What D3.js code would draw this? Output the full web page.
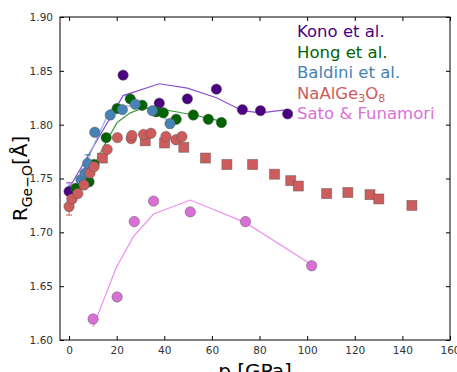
<!DOCTYPE html>
<html>
<head>
<meta charset="utf-8">
<script src="https://d3js.org/d3.v7.min.js"></script>
<style>
  body { margin: 0; background: #fff; }
  text { font-family: "DejaVu Sans", sans-serif; }
</style>
</head>
<body>
<div id="chart"></div>
<script>
// Kono et al.
var konoP = [0, 22.7, 37.9, 49.7, 61.9, 72.8, 80.4, 91.8];
var konoR = [1.738, 1.846, 1.820, 1.824, 1.833, 1.814, 1.813, 1.810];
var konoFitR = [1.741, 1.827, 1.838, 1.834, 1.825, 1.813, 1.811, 1.814];

// Hong et al.
var hongP = [2.9, 8.4, 10.5, 15.6, 20.2, 25.7, 30.7, 36.6, 39.6, 45.0, 52.2, 58.5, 64.0];
var hongR = [1.741, 1.747, 1.763, 1.788, 1.815, 1.824, 1.818, 1.812, 1.811, 1.805, 1.809, 1.805, 1.802];
var hongFitR = [1.737, 1.752, 1.762, 1.784, 1.802, 1.811, 1.815, 1.815, 1.814, 1.812, 1.809, 1.806, 1.803];

// Baldini et al.
var baldiniP = [5.0, 6.7, 7.8, 10.8, 17.3, 22.4, 27.8, 35.0, 42.4];
var baldiniR = [1.749, 1.755, 1.764, 1.793, 1.809, 1.814, 1.819, 1.813, 1.801];
var baldiniFitR = [1.752, 1.759, 1.767, 1.783, 1.814, 1.817, 1.818, 1.815, 1.802];

// NaAlGe3O8, circles and squares
var naCircP = [0, 1.3, 3.7, 6.3, 8.8, 10.5, 16.0, 20.3, 26.1, 26.4, 31.3, 34.4, 40.7, 44.9, 47.4];
var naCircR = [1.724, 1.731, 1.736, 1.744, 1.755, 1.761, 1.777, 1.788, 1.787, 1.790, 1.791, 1.792, 1.789, 1.786, 1.789];
var naSqP = [14.0, 32.0, 40.1, 48.2, 57.3, 66.3, 77.1, 86.3, 93.1, 96.3, 108.2, 117.1, 126.4, 130.1, 144.0];
var naSqR = [1.769, 1.785, 1.783, 1.779, 1.769, 1.763, 1.763, 1.754, 1.748, 1.743, 1.736, 1.737, 1.735, 1.731, 1.725];

// Sato & Funamori
var satoP = [10.1, 20.2, 27.4, 35.5, 50.9, 74.1, 101.9];
var satoR = [1.6195, 1.640, 1.710, 1.729, 1.719, 1.710, 1.669];
var satoFitP = [10.1, 19.8, 27.0, 35.5, 50.9, 74.1, 101.9];
var satoFitR = [1.612, 1.667, 1.696, 1.717, 1.730, 1.709, 1.670];

var xTicks = [0, 20, 40, 60, 80, 100, 120, 140, 160];
var yTicks = [1.60, 1.65, 1.70, 1.75, 1.80, 1.85, 1.90];

var legendNames = ["Kono et al.", "Hong et al.", "Baldini et al.", "NaAlGe3O8", "Sato & Funamori"];
var legendColors = ["#4b0082", "#006400", "#4682b4", "#cd5c5c", "#da70d6"];

var W = 457, H = 372;
var margin = { top: 17, right: 7, bottom: 32, left: 60 };

var svg = d3.select("#chart").append("svg")
    .attr("width", W)
    .attr("height", H);

var x = d3.scaleLinear().domain([-3.8, 160]).range([margin.left, W - margin.right]);
var y = d3.scaleLinear().domain([1.60, 1.90]).range([H - margin.bottom, margin.top]);

function zip(a, b) { return a.map(function (v, i) { return [v, b[i]]; }); }

var line = d3.line()
    .x(function (d) { return x(d[0]); })
    .y(function (d) { return y(d[1]); });

var plot = svg.append("g");

// fit lines
var fits = [
    { p: konoP, r: konoFitR, c: "#8a4fd0" },
    { p: hongP, r: hongFitR, c: "#3c9a3c" },
    { p: baldiniP, r: baldiniFitR, c: "#8fb4d8" },
    { p: satoFitP, r: satoFitR, c: "#ee90ee" }
];
fits.forEach(function (f) {
    plot.append("path")
        .attr("d", line(zip(f.p, f.r)))
        .attr("fill", "none")
        .attr("stroke", f.c)
        .attr("stroke-width", 1.2);
});

// error bars (a few visible ones)
var errs = [
    { p: 0, r: 1.724, e: 0.008, c: "#cd5c5c" },
    { p: 0, r: 1.738, e: 0.008, c: "#8a4fd0" },
    { p: 42.4, r: 1.801, e: 0.004, c: "#4682b4" },
    { p: 7.8, r: 1.764, e: 0.008, c: "#4682b4" }
];
errs.forEach(function (e) {
    plot.append("line")
        .attr("x1", x(e.p)).attr("x2", x(e.p))
        .attr("y1", y(e.r - e.e)).attr("y2", y(e.r + e.e))
        .attr("stroke", e.c).attr("stroke-width", 1);
    [e.r - e.e, e.r + e.e].forEach(function (v) {
        plot.append("line")
            .attr("x1", x(e.p) - 3).attr("x2", x(e.p) + 3)
            .attr("y1", y(v)).attr("y2", y(v))
            .attr("stroke", e.c).attr("stroke-width", 1);
    });
});

function circles(p, r, color) {
    plot.append("g").selectAll("circle")
        .data(zip(p, r))
        .enter().append("circle")
        .attr("cx", function (d) { return x(d[0]); })
        .attr("cy", function (d) { return y(d[1]); })
        .attr("r", 5.2)
        .attr("fill", color)
        .attr("stroke", "#555")
        .attr("stroke-opacity", 0.6)
        .attr("stroke-width", 0.8);
}

function squares(p, r, color) {
    var s = 10;
    plot.append("g").selectAll("rect")
        .data(zip(p, r))
        .enter().append("rect")
        .attr("x", function (d) { return x(d[0]) - s / 2; })
        .attr("y", function (d) { return y(d[1]) - s / 2; })
        .attr("width", s)
        .attr("height", s)
        .attr("fill", color)
        .attr("stroke", "#555")
        .attr("stroke-opacity", 0.6)
        .attr("stroke-width", 0.8);
}

squares(naSqP, naSqR, "#cd5c5c");
circles(konoP, konoR, "#4b0082");
circles(hongP, hongR, "#006400");
circles(baldiniP, baldiniR, "#4682b4");
circles(naCircP, naCircR, "#cd5c5c");
circles(satoP, satoR, "#da70d6");

// frame
svg.append("rect")
    .attr("x", margin.left)
    .attr("y", margin.top)
    .attr("width", W - margin.right - margin.left)
    .attr("height", H - margin.bottom - margin.top)
    .attr("fill", "none")
    .attr("stroke", "#000")
    .attr("stroke-width", 1);

// inward ticks on all four sides
var tl = 4;
var axB = svg.append("g").attr("transform", "translate(0," + (H - margin.bottom) + ")")
    .call(d3.axisBottom(x).tickValues(xTicks).tickSize(-tl).tickPadding(7).tickFormat(d3.format("d")));
var axT = svg.append("g").attr("transform", "translate(0," + margin.top + ")")
    .call(d3.axisTop(x).tickValues(xTicks).tickSize(-tl).tickFormat(""));
var axL = svg.append("g").attr("transform", "translate(" + margin.left + ",0)")
    .call(d3.axisLeft(y).tickValues(yTicks).tickSize(-tl).tickPadding(7).tickFormat(d3.format(".2f")));
var axR = svg.append("g").attr("transform", "translate(" + (W - margin.right) + ",0)")
    .call(d3.axisRight(y).tickValues(yTicks).tickSize(-tl).tickFormat(""));
[axB, axT, axL, axR].forEach(function (a) {
    a.select(".domain").remove();
    a.selectAll("text").attr("font-size", 10.5).attr("fill", "#333")
        .attr("font-family", "DejaVu Sans, sans-serif");
});

// axis labels
svg.append("text")
    .attr("x", (margin.left + W - margin.right) / 2)
    .attr("y", H + 6)
    .attr("text-anchor", "middle")
    .attr("font-size", 20)
    .text("p [GPa]");

var yl = svg.append("text")
    .attr("transform", "translate(27," + ((margin.top + H - margin.bottom) / 2) + ") rotate(-90)")
    .attr("text-anchor", "middle")
    .attr("font-size", 20);
yl.append("tspan").text("R");
yl.append("tspan").attr("font-size", 14).attr("dy", 5).text("Ge\u2212O");
yl.append("tspan").attr("dy", -5).text("[Å]");

// legend
var lg = svg.append("g");
legendNames.forEach(function (n, i) {
    var t = lg.append("text")
        .attr("x", 297)
        .attr("y", 37 + i * 20.5)
        .attr("font-size", 16.5)
        .attr("fill", legendColors[i]);
    if (n === "NaAlGe3O8") {
        t.append("tspan").text("NaAlGe");
        t.append("tspan").attr("font-size", 11).attr("dy", 3).text("3");
        t.append("tspan").attr("dy", -3).text("O");
        t.append("tspan").attr("font-size", 11).attr("dy", 3).text("8");
    } else {
        t.text(n);
    }
});
</script>
</body>
</html>
